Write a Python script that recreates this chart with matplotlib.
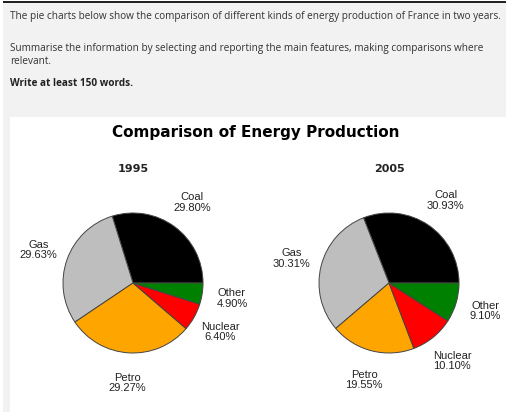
import numpy as np
import matplotlib.pyplot as plt
from matplotlib.patches import Rectangle

# Datos de las gráficas
categorias = ['Coal', 'Gas', 'Petro', 'Nuclear', 'Other']
valores_1995 = [29.80, 29.63, 29.27, 6.40, 4.90]
valores_2005 = [30.93, 30.31, 19.55, 10.10, 9.10]
anios = ['1995', '2005']
colores = ['#000000', '#bebebe', '#ffa500', '#ff0000', '#008000']

W, H = 512, 412
fig = plt.figure(figsize=(W / 100, H / 100), dpi=100)
fig.patch.set_facecolor('white')

def fy(y):
    return 1 - y / H

# Fondo estilo captura de pantalla
fig.patches.append(Rectangle((3 / W, fy(412)), 503 / W, 409 / H, transform=fig.transFigure,
                             facecolor='#f2f2f2', edgecolor='none', zorder=-10))
fig.patches.append(Rectangle((10 / W, fy(412)), 496 / W, 295 / H, transform=fig.transFigure,
                             facecolor='white', edgecolor='none', zorder=-9))
fig.patches.append(Rectangle((3 / W, fy(3)), 503 / W, 2 / H, transform=fig.transFigure,
                             facecolor='#222222', edgecolor='none', zorder=-8))

# Texto del enunciado
fuente = 'Open Sans'
tam = 7.2
fig.text(10 / W, fy(16), 'The pie charts below show the comparison of different kinds of energy production of France in two years.',
         fontsize=tam, family=fuente, color='#333333', va='center')
fig.text(10 / W, fy(48), 'Summarise the information by selecting and reporting the main features, making comparisons where',
         fontsize=tam, family=fuente, color='#333333', va='center')
fig.text(10 / W, fy(62), 'relevant.', fontsize=tam, family=fuente, color='#333333', va='center')
fig.text(10 / W, fy(84), 'Write at least 150 words.', fontsize=tam, family=fuente, color='#222222',
         fontweight='bold', va='center')

# Título
fig.text(256 / W, fy(132), 'Comparison of Energy Production', fontsize=11, fontweight='bold',
         ha='center', va='center', family='DejaVu Sans')

R = 70
L = 1.8
centros = [(133, 283), (389, 283)]
for (cx, cy), anio, valores in zip(centros, anios, [valores_1995, valores_2005]):
    lado = 2 * L * R
    ax = fig.add_axes([(cx - L * R) / W, (H - cy - L * R) / H, lado / W, lado / H])
    ax.pie(valores, colors=colores, startangle=0, counterclock=True,
           wedgeprops=dict(edgecolor='#444444', linewidth=0.7))
    ax.set_xlim(-L, L)
    ax.set_ylim(-L, L)
    ax.set_aspect('equal')
    ax.axis('off')
    # Etiquetas
    angulos = np.cumsum([0] + valores) / np.sum(valores) * 360
    for i, nombre in enumerate(categorias):
        medio = np.deg2rad((angulos[i] + angulos[i + 1]) / 2)
        d = 1.43
        ax.text(d * np.cos(medio), d * np.sin(medio), f'{nombre}\n{valores[i]:.2f}%',
                ha='center', va='center', fontsize=8, family='Liberation Sans',
                color='#222222', linespacing=1.05, clip_on=False)
    fig.text(cx / W, fy(169), anio, fontsize=8, fontweight='bold', ha='center', va='center',
             family='DejaVu Sans', color='#222222')

plt.savefig('out.png', dpi=100)
